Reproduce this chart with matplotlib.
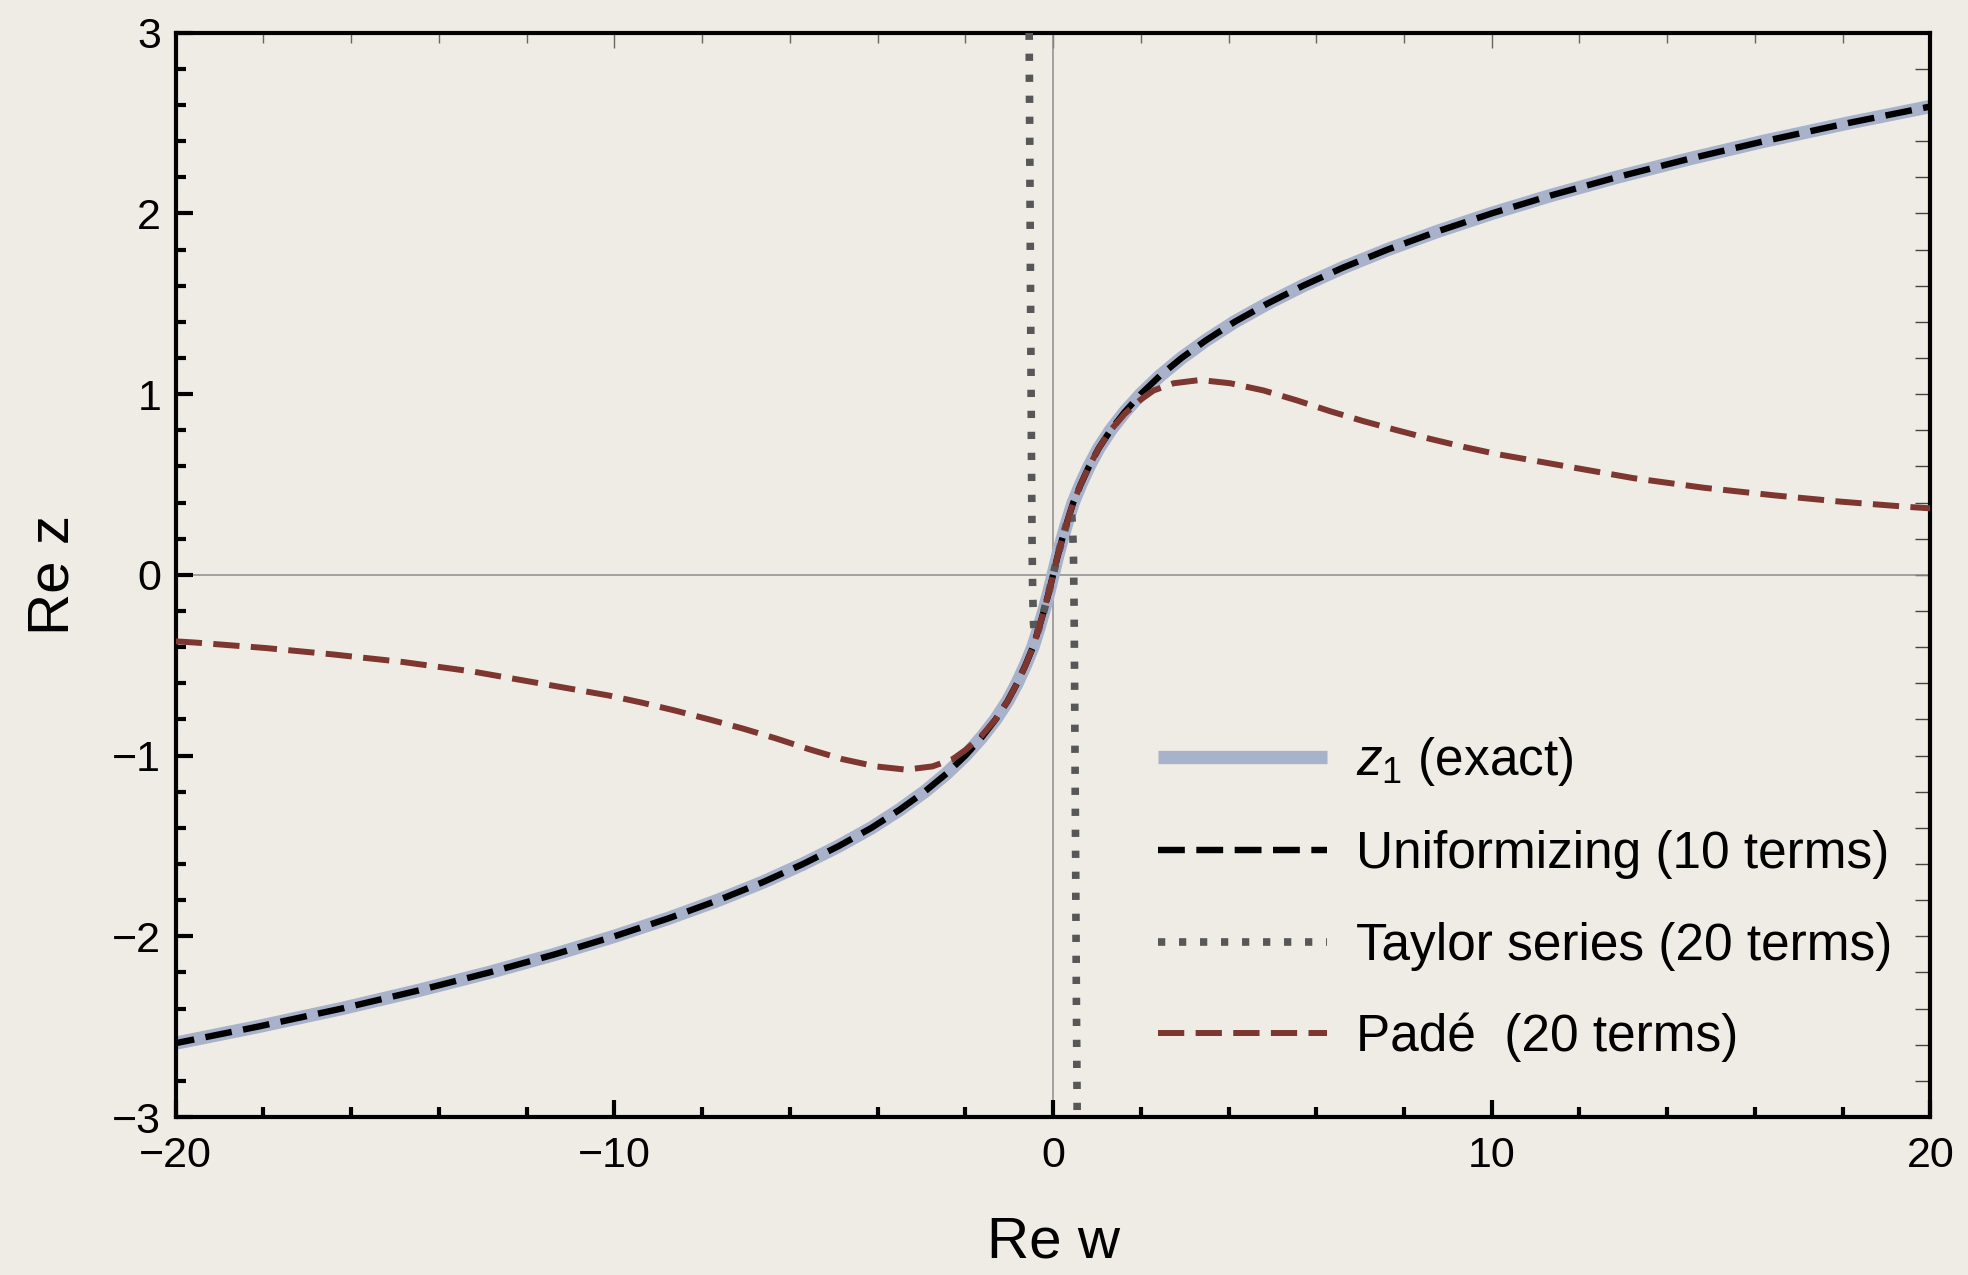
import matplotlib
matplotlib.use("Agg")
import matplotlib.pyplot as plt
from matplotlib.ticker import MultipleLocator

# ---------------- data ----------------
# exact root z1 (Re w, Re z)
exact_w = [-20.18, -18.13, -16.22, -14.47, -12.85, -11.36, -10.00, -8.76, -7.63,
           -6.61, -5.70, -4.88, -4.14, -3.50, -2.93, -2.43, -2.00, -1.63, -1.31,
           -1.04, -0.82, -0.63, -0.46, -0.33, -0.21, -0.10, 0.00, 0.10, 0.21, 0.33,
           0.46, 0.63, 0.82, 1.04, 1.31, 1.63, 2.00, 2.43, 2.93, 3.50, 4.14, 4.88,
           5.70, 6.61, 7.63, 8.76, 10.00, 11.36, 12.85, 14.47, 16.22, 18.13, 20.18]
exact_z = [-2.6, -2.5, -2.4, -2.3, -2.2, -2.1, -2.0, -1.9, -1.8, -1.7, -1.6, -1.5,
           -1.4, -1.3, -1.2, -1.1, -1.0, -0.9, -0.8, -0.7, -0.6, -0.5, -0.4, -0.3,
           -0.2, -0.1, 0.0, 0.1, 0.2, 0.3, 0.4, 0.5, 0.6, 0.7, 0.8, 0.9, 1.0, 1.1,
           1.2, 1.3, 1.4, 1.5, 1.6, 1.7, 1.8, 1.9, 2.0, 2.1, 2.2, 2.3, 2.4, 2.5, 2.6]

# uniformizing approximation (10 terms) – indistinguishable from the exact curve
unif_w = list(exact_w)
unif_z = list(exact_z)

# Taylor series (20 terms)
taylor_w = [-0.545, -0.53, -0.515, -0.50, -0.49, -0.48, -0.465, -0.445, -0.42,
            -0.39, -0.33, -0.21, -0.10, 0.00, 0.10, 0.21, 0.33, 0.39, 0.42, 0.445,
            0.465, 0.48, 0.49, 0.50, 0.515, 0.53, 0.55]
taylor_z = [3.0, 2.3, 1.6, 1.0, 0.55, 0.2, -0.1, -0.27, -0.34, -0.34, -0.3, -0.2,
            -0.1, 0.0, 0.1, 0.2, 0.3, 0.34, 0.34, 0.27, 0.1, -0.2, -0.55, -1.0,
            -1.6, -2.3, -3.0]

# Padé approximant (20 terms)
pade_w = [-20.0, -19.54, -17.95, -16.43, -14.83, -13.23, -11.71, -10.12, -9.36,
          -8.60, -7.84, -7.08, -6.32, -5.56, -4.80, -4.04, -3.35, -2.75, -2.29,
          -1.99, -1.63, -1.31, -1.04, -0.82, -0.63, -0.46, -0.33, -0.21, -0.10,
          0.00, 0.10, 0.21, 0.33, 0.46, 0.63, 0.82, 1.04, 1.31, 1.63, 1.99, 2.29,
          2.75, 3.35, 4.04, 4.80, 5.56, 6.32, 7.08, 7.84, 8.60, 9.36, 10.12, 11.71,
          13.23, 14.83, 16.43, 17.95, 19.54, 20.0]
pade_z = [-0.368, -0.375, -0.405, -0.440, -0.482, -0.535, -0.600, -0.668, -0.708,
          -0.752, -0.800, -0.850, -0.905, -0.965, -1.020, -1.060, -1.078, -1.060,
          -1.020, -0.968, -0.890, -0.800, -0.700, -0.600, -0.500, -0.400, -0.300,
          -0.200, -0.100, 0.000, 0.100, 0.200, 0.300, 0.400, 0.500, 0.600, 0.700,
          0.800, 0.890, 0.968, 1.020, 1.060, 1.078, 1.060, 1.020, 0.965, 0.905,
          0.850, 0.800, 0.752, 0.708, 0.668, 0.600, 0.535, 0.482, 0.440, 0.405,
          0.375, 0.368]

labels = [r"$z_1$ (exact)", "Uniformizing (10 terms)",
          "Taylor series (20 terms)", "Padé  (20 terms)"]
x_major = [-20, -10, 0, 10, 20]
y_major = [-3, -2, -1, 0, 1, 2, 3]

# ---------------- style ----------------
plt.rcParams['font.family'] = ['Liberation Sans', 'DejaVu Sans']
plt.rcParams['mathtext.fontset'] = 'custom'
plt.rcParams['mathtext.rm'] = 'Liberation Sans'
plt.rcParams['mathtext.it'] = 'Liberation Sans:italic'

bg = '#efece6'
fig = plt.figure(figsize=(19.68, 12.75), dpi=100, facecolor=bg)
ax = fig.add_axes([0.0893, 0.1239, 0.8916, 0.8505], facecolor=bg)

ax.axhline(0, color='#8c8c8c', lw=1.1, zorder=1)
ax.axvline(0, color='#8c8c8c', lw=1.1, zorder=1)

l1, = ax.plot(exact_w, exact_z, color='#a8b2ca', lw=9.6, solid_capstyle='butt', zorder=2)
l2, = ax.plot(unif_w, unif_z, color='black', lw=4.6, dashes=(4.2, 1.8),
              dash_capstyle='butt', zorder=3)
l3, = ax.plot(taylor_w, taylor_z, color='#575757', lw=5.5, dashes=(0.95, 1.8),
              dash_capstyle='butt', zorder=4)
l4, = ax.plot(pade_w, pade_z, color='#7e3730', lw=4.3, dashes=(4.4, 1.9),
              dash_capstyle='butt', zorder=5)

ax.set_xlim(-20, 20)
ax.set_ylim(-3, 3)
ax.set_xticks(x_major)
ax.set_yticks(y_major)
ax.xaxis.set_minor_locator(MultipleLocator(2))
ax.yaxis.set_minor_locator(MultipleLocator(0.2))

for s in ax.spines.values():
    s.set_linewidth(3.0)
    s.set_color('black')

ax.tick_params(axis='both', which='major', direction='in', length=12.5, width=3.0,
               color='black', labelsize=31, top=False, right=False)
ax.tick_params(axis='both', which='minor', direction='in', length=7.5, width=3.0,
               color='black', top=False, right=False)
ax.tick_params(axis='x', which='major', pad=14)
ax.tick_params(axis='y', which='major', pad=10.5)

# thin top / right ticks
secx = ax.secondary_xaxis('top')
secx.set_xticks(x_major)
secx.xaxis.set_minor_locator(MultipleLocator(2))
secx.tick_params(which='major', direction='in', length=11, width=1.0, color='#666666',
                 labeltop=False)
secx.tick_params(which='minor', direction='in', length=7.5, width=1.0, color='#666666')
secx.spines['top'].set_visible(False)
secy = ax.secondary_yaxis('right')
secy.set_yticks(y_major)
secy.yaxis.set_minor_locator(MultipleLocator(0.2))
secy.tick_params(which='major', direction='in', length=11, width=1.0, color='#444444',
                 labelright=False)
secy.tick_params(which='minor', direction='in', length=11, width=1.0, color='#444444')
secy.spines['right'].set_visible(False)

ax.set_xlabel('Re w', fontsize=42)
ax.set_ylabel('Re z', fontsize=42)
ax.xaxis.set_label_coords(0.5, -0.091)
ax.yaxis.set_label_coords(-0.0545, 0.5)

leg = ax.legend([l1, l2, l3, l4], labels, loc='upper left',
                bbox_to_anchor=(0.5598, 0.352), frameon=False, fontsize=37,
                handlelength=3.29, handletextpad=0.57, labelspacing=0.82,
                borderpad=0.0, borderaxespad=0.0)

fig.savefig('out.png', dpi=100, facecolor=bg)
